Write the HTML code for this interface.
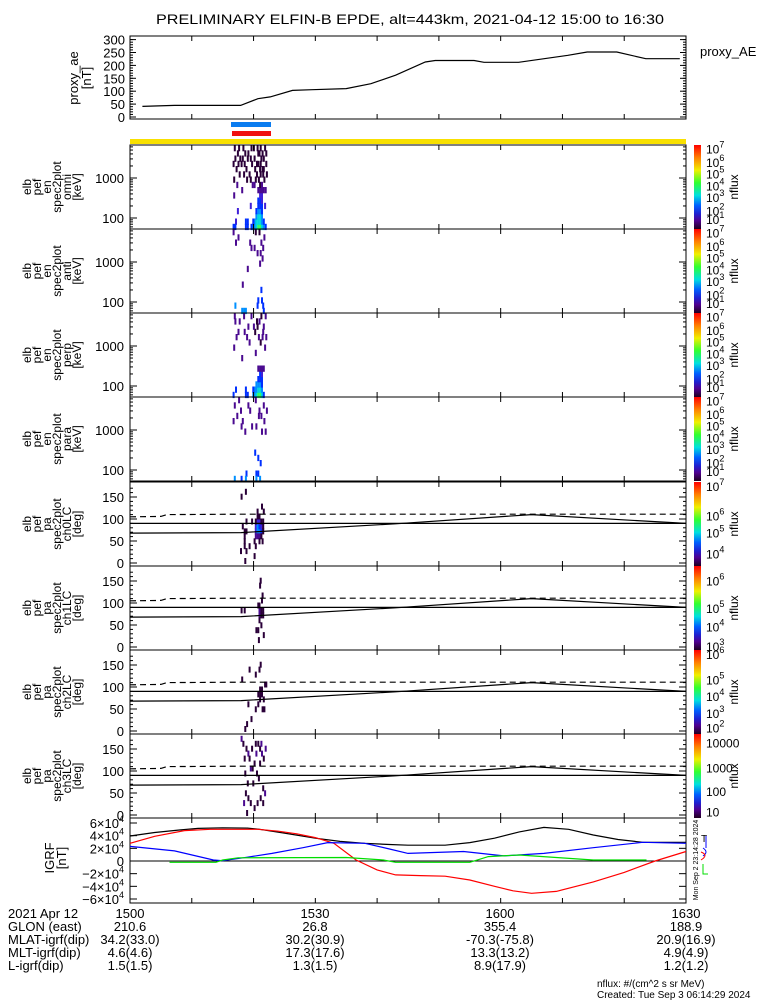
<!DOCTYPE html>
<html><head><meta charset="utf-8">
<style>
html,body{margin:0;padding:0;background:#fff;}
svg{display:block;font-family:"Liberation Sans",sans-serif;}
text{fill:#000;}
</style></head>
<body>
<svg id="chart" width="775" height="1000" viewBox="0 0 775 1000" xmlns="http://www.w3.org/2000/svg">
<rect x="0" y="0" width="775" height="1000" fill="#fff"/>
<text x="410" y="24" font-size="14" text-anchor="middle" textLength="508" lengthAdjust="spacingAndGlyphs">PRELIMINARY ELFIN-B EPDE, alt=443km, 2021-04-12 15:00 to 16:30</text>
<g id="g"></g>
</svg>
<script>
// ---- data ----
const aeT = [2,7.2,17.9,20.7,22.7,26.3,29.5,35,39,43,47.8,49.4,55.7,57.3,62.9,70.9,74,78.8,83.5,89];
const aeV = [41,45,45,71,78,103,106,110,129,162,213,219,219,212,212,239,252,252,226,226];
const bT = [0,4,8,11,15,19,21,25,30,34,38,42,45,48,51,55,59,63,67,71,75,79,83,90];
const bTot = [3.95,4.5,4.9,5.15,5.25,5.2,5.0,4.4,3.6,3.1,2.8,2.6,2.5,2.5,2.5,2.9,3.6,4.6,5.3,5.0,4.1,3.4,2.95,2.95];
const rT = [0,4,8.8,13,17.5,20.7,24,27,30,33,36.6,40,43,47,51,55,59,62,65,69,75,80,85,90];
const rV = [2.8,3.9,4.8,5.0,5.0,5.0,4.7,4.3,3.7,2.8,0.15,-1.4,-2.2,-2.3,-2.4,-3.0,-4.0,-4.7,-5.1,-4.8,-3.3,-1.8,0,1.5];
const blT = [0,7.2,13.5,15,19,23,28,32,38,42,45,54,60.5,67,75,83,90];
const blV = [2.3,1.6,0.15,0.05,0.6,1.2,2.1,2.9,2.8,1.9,1.2,1.5,0.8,1.2,2.1,2.95,2.8];
const gT = [6.4,13.9,15,17.5,35,41,43,55,58,63,75,83.6];
const gV = [-0.2,-0.2,0.15,0.5,0.55,0.15,-0.2,-0.2,0.7,0.95,0.15,0.15];
const lcT = [0,18,43,65,90];
const lcV = [68,69,89,110,90];
const dashT = [0,5,6,18,90];
const dashV = [105,106,110,111,111];
// spectrogram cells: [time-min, bin(0-15), level(0-6)]
const specOmni = [[20.0,0,4],[20.3,0,5],[20.6,0,6],[20.9,0,6],[21.2,0,5],[21.5,0,4],[20.0,1,4],[20.3,1,5],[20.6,1,5],[20.9,1,5],[21.2,1,4],[21.5,1,3],[20.3,2,4],[20.6,2,5],[20.9,2,5],[21.2,2,4],[20.3,3,3],[20.6,3,4],[20.9,3,4],[21.2,3,3],[20.6,4,3],[20.9,4,3],[21.2,4,3],[20.6,5,3],[20.9,5,3],[21.2,5,2],[20.9,6,2],[21.2,6,2],[20.6,7,1],[20.9,7,1],[21.2,7,1],[21.5,7,1],[20.9,8,0],[21.2,8,1],[18.6,0,3],[18.9,0,3],[18.6,1,3],[18.9,1,3],[19.8,0,4],[19.8,1,3],[19.5,0,3],[17.0,1,2],[16.6,0,3],[16.9,0,3],[21.8,0,3],[17.3,3,2],[19.4,4,2],[21.7,4,2],[16.8,15,0],[17.3,14,0],[17.7,13,0],[18.2,15,0],[19.0,14,0],[19.5,15,0],[20.0,13,0],[20.4,12,0],[20.8,14,0],[21.3,11,0],[21.7,15,0],[22.0,10,0],[17.1,11,0],[18.4,12,0],[19.2,10,0],[16.7,9,0],[19.7,8,1],[17.9,12,0],[21.0,10,0],[21.5,13,0],[20.2,9,0],[18.0,7,1],[20.6,14,0],[21.0,15,0],[19.4,13,0],[18.7,11,0],[21.9,12,0],[17.5,15,0],[18.5,14,0],[19.9,15,0],[20.5,15,0],[21.3,14,0],[21.1,13,0],[20.6,12,0],[20.9,11,0],[20.1,11,0],[19.6,12,0],[18.9,13,0],[18.1,13,0],[17.4,12,0],[16.9,13,0],[17.6,10,0],[18.8,9,0],[19.4,9,0],[21.6,9,0],[21.4,10,0],[20.4,10,0],[20.7,9,0],[21.0,12,0],[21.5,11,0],[21.9,14,0],[16.6,12,0],[17.2,8,1],[18.3,10,0],[20.0,8,1],[21.8,7,1],[16.7,6,1]];
const specAnti = [[16.6,15,1],[17.4,14,1],[17.0,13,1],[19.5,12,1],[20.0,12,1],[21.0,11,1],[21.6,14,1],[21.3,10,1],[20.5,11,1],[18.9,8,1],[18.1,5,1],[21.1,4,3],[20.6,2,3],[21.2,2,3],[16.9,1,4],[18.0,0,4],[18.3,0,4],[18.6,0,4],[20.5,1,3],[21.4,1,3],[21.5,0,3],[20.2,15,0],[20.8,15,0],[19.3,13,1],[21.1,13,1],[21.4,12,1],[20.9,9,1]];
const specPerp = [[20.0,0,4],[20.3,0,5],[20.6,0,6],[20.9,0,6],[21.2,0,5],[21.5,0,3],[20.0,1,4],[20.3,1,4],[20.6,1,5],[20.9,1,5],[21.2,1,4],[20.3,2,4],[20.6,2,4],[20.9,2,4],[21.2,2,3],[20.6,3,3],[20.9,3,3],[21.2,3,3],[20.9,4,3],[21.2,4,2],[20.6,5,1],[20.9,5,1],[21.2,5,1],[21.5,5,1],[18.6,0,3],[18.9,0,3],[18.6,1,3],[19.8,0,4],[19.8,1,3],[17.0,1,3],[16.6,0,3],[16.8,15,1],[17.6,14,1],[18.3,15,1],[19.0,13,1],[20.1,12,0],[20.8,14,1],[21.3,11,1],[21.8,15,1],[17.1,11,1],[18.4,12,1],[19.2,10,1],[16.7,9,1],[21.0,10,0],[21.5,13,1],[20.2,8,1],[18.0,7,1],[21.7,9,1],[19.5,15,1],[20.4,14,0],[21.1,15,0],[20.7,11,1],[19.9,13,1],[17.4,12,1],[18.8,11,1],[21.4,12,1],[20.5,13,0],[21.9,11,1],[16.9,14,1]];
const specPara = [[16.8,14,1],[17.5,15,1],[17.8,13,1],[19.3,13,1],[20.7,12,1],[21.5,14,1],[22.0,13,1],[16.6,11,1],[17.9,10,1],[19.6,10,1],[20.3,10,1],[21.2,9,1],[21.8,9,1],[18.5,9,1],[20.1,5,3],[20.6,4,3],[21.0,3,3],[18.7,1,3],[20.3,1,3],[20.6,1,3],[16.8,0,4],[18.6,0,4],[20.3,0,4],[20.9,0,4],[17.9,0,3],[19.0,14,1],[20.2,15,1],[21.1,12,1],[17.2,12,1],[18.1,11,1],[21.6,11,1],[20.8,13,1]];
// pitch-angle cells: [time-min, bin(0-15, 11.25deg), level]
const pa0 = [[20.2,6,2],[20.5,6,4],[20.8,6,4],[21.1,6,3],[20.2,7,2],[20.5,7,4],[20.8,7,3],[21.1,7,2],[20.5,8,2],[20.8,8,2],[20.2,5,1],[20.5,5,1],[20.8,5,1],[21.1,5,0],[21.4,6,0],[21.4,7,0],[20.5,9,0],[20.8,9,0],[20.5,10,0],[20.8,4,0],[18.4,5,0],[18.4,4,0],[18.4,3,0],[18.7,6,0],[18.7,2,0],[18.1,7,0],[18.7,8,0],[17.9,13,0],[18.6,14,0],[19.2,3,0],[20.2,3,0],[20.0,1,0],[18.5,0,0],[21.2,11,0],[21.5,10,0],[17.8,2,0],[19.6,8,0],[21.4,8,0],[21.1,8,0],[20.2,8,0],[18.4,6,0],[20.0,4,0],[21.3,4,0]];
const pa1 = [[20.8,6,1],[20.8,7,1],[21.1,7,0],[21.1,6,0],[20.8,8,0],[21.4,7,0],[21.4,6,0],[20.8,5,0],[21.1,4,0],[20.6,3,0],[20.9,12,0],[21.3,10,0],[20.7,1,0],[21.5,2,0],[17.9,7,0],[18.4,7,0],[20.3,3,0],[20.6,8,0],[21.0,13,0],[21.2,9,0]];
const pa2 = [[20.9,7,0],[21.2,7,0],[20.9,8,0],[21.2,8,0],[20.6,7,0],[20.9,6,0],[21.5,6,0],[20.8,12,0],[20.2,11,0],[19.2,12,0],[18.0,10,0],[21.7,9,0],[19.0,5,0],[18.8,1,0],[18.5,0,0],[19.5,2,0],[20.2,4,0],[21.3,4,0],[21.6,4,0],[20.6,5,0],[21.0,13,0],[21.9,9,0]];
const pa3 = [[17.9,15,1],[18.2,14,0],[18.4,11,0],[18.7,13,0],[19.0,12,1],[19.4,9,1],[19.6,13,0],[20.0,10,0],[20.3,12,1],[20.6,14,0],[20.9,13,0],[21.2,12,1],[21.5,11,0],[21.8,13,1],[20.4,8,0],[20.7,7,0],[19.8,6,0],[18.6,4,0],[19.0,3,0],[19.4,2,0],[20.0,1,0],[20.5,2,0],[21.0,3,0],[21.4,5,0],[21.7,4,1],[18.3,2,1],[18.8,0,0],[19.7,9,0],[20.9,10,0],[18.5,8,0],[19.2,11,0],[20.2,14,0],[21.1,14,1],[18.9,6,0],[21.4,2,0]];
// ---- layout ----
const X0=130, X1=686, TMAX=90;
const xs = t => X0 + t/TMAX*(X1-X0);
const cols = ['#2a0038','#4a0a90','#4020d8','#0030ff','#0090ff','#00d8e0','#30ff60'];
const NS='http://www.w3.org/2000/svg';
const G=document.getElementById('g');
function mk(tag, attrs, parent){const e=document.createElementNS(NS,tag);for(const k in attrs)e.setAttribute(k,attrs[k]);(parent||G).appendChild(e);return e;}
function txt(x,y,s,size,anchor,parent){const e=mk('text',{x:x,y:y,'font-size':size,'text-anchor':anchor||'start'},parent);e.textContent=s;return e;}
function frame(top,bot,name){
  const r=mk('rect',{x:X0,y:top,width:X1-X0,height:bot-top,fill:'none',stroke:'#000','stroke-width':1});
  
  
  for(let i=1;i<9;i++){const x=X0+i*(X1-X0)/9;
    mk('line',{x1:x,x2:x,y1:bot,y2:bot-5,stroke:'#000'});mk('line',{x1:x,x2:x,y1:top,y2:top+5,stroke:'#000'});}
}
function ylabel(lines,cy){
  const g=mk('g',{});
  
  
  lines.forEach((s,i)=>{const x=31+i*10;const t=txt(0,0,s,12,'middle',g);t.setAttribute('transform','translate('+x+','+cy+') rotate(-90)');});
}
function poly(T,V,yf,col,name,dash){
  const p=mk('polyline',{points:T.map((t,i)=>xs(t).toFixed(1)+','+yf(V[i]).toFixed(1)).join(' '),fill:'none',stroke:col,'stroke-width':1.2});
  if(dash)p.setAttribute('stroke-dasharray','6,4');
  
  
}
// ---- proxy AE ----
(function(){
  const top=36,bot=119; const yf=v=>117-v*0.258;
  frame(top,bot,'proxy-ae-panel');
  [0,50,100,150,200,250,300].forEach(v=>{txt(125,yf(v)+5,String(v),13,'end');mk('line',{x1:X0,x2:X0+6,y1:yf(v),y2:yf(v),stroke:'#000'});mk('line',{x1:X1,x2:X1-6,y1:yf(v),y2:yf(v),stroke:'#000'});});
  for(let v=10;v<310;v+=10){mk('line',{x1:X0,x2:X0+3,y1:yf(v),y2:yf(v),stroke:'#000'});mk('line',{x1:X1,x2:X1-3,y1:yf(v),y2:yf(v),stroke:'#000'});}
  poly(aeT,aeV,yf,'#000','proxy-ae-line');
  const g=mk('g',{});
  
  
  let t=txt(0,0,'proxy_ae',13,'middle',g);t.setAttribute('transform','translate(78,78) rotate(-90)');
  t=txt(0,0,'[nT]',13,'middle',g);t.setAttribute('transform','translate(91,78) rotate(-90)');
  txt(700,56,'proxy_AE',13,'start');
})();
// bars
let b=mk('rect',{x:231,y:122,width:40,height:5,fill:'#0a7cf0'});
b=mk('rect',{x:232,y:131,width:39,height:5,fill:'#f01010'});
b=mk('rect',{x:X0,y:139,width:X1-X0,height:5,fill:'#f8e000'});
// colorbar gradient
const defs=mk('defs',{});
const lg=mk('linearGradient',{id:'rb',x1:0,y1:0,x2:0,y2:1},defs);
[['0','#ff0000'],['0.15','#ff8000'],['0.3','#f0f000'],['0.45','#30ff30'],['0.6','#00e0e0'],['0.72','#0060ff'],['0.82','#2020d0'],['0.9','#500090'],['1','#200020']].forEach(s=>mk('stop',{offset:s[0],'stop-color':s[1]},lg));
function cbar(top,bot,labels,name){
  const r=mk('rect',{x:694,y:top,width:7,height:bot-top,fill:'url(#rb)'});
  
  
  labels.forEach(l=>{const t=txt(706,top+(bot-top)*l[1]+5,l[0],12,'start');if(l[2]){const s=mk('tspan',{dy:-6,'font-size':9},t);s.textContent=l[2];}});
  const t=txt(0,0,'nflux',12,'middle');t.setAttribute('transform','translate(738,'+((top+bot)/2)+') rotate(-90)');
}
// ---- energy spectrograms ----
const eTops=[145,229,313,397];
const eNames=['omni','anti','perp','para'];
const eData=[specOmni,specAnti,specPerp,specPara];
eTops.forEach((top,k)=>{
  const bot=top+84;
  const yE=E=>top+33+(3-Math.log10(E))*40;
  const bh=84/16;
  eData[k].forEach(c=>{
    const r=mk('rect',{x:xs(c[0]).toFixed(1),y:(bot-(c[1]+1)*bh).toFixed(1),width:2,height:(bh+1).toFixed(1),fill:cols[c[2]]});
    
    
  });
  frame(top,bot,'energy-spectrogram-'+eNames[k]);
  [1000,100].forEach(v=>txt(124,yE(v)+5,String(v),13,'end'));
  for(let d=10;d<=10000;d*=10)for(let m=1;m<10;m++){const y=yE(d*m);if(y>top&&y<bot){const L=m===1?7:3;mk('line',{x1:X0,x2:X0+L,y1:y,y2:y,stroke:'#000'});mk('line',{x1:X1,x2:X1-L,y1:y,y2:y,stroke:'#000'});}}
  ylabel(['elb','pef','en','spec2plot',eNames[k],'[keV]'],top+42);
  cbar(top,bot,[['10','0.04','7'],['10','0.2','6'],['10','0.34','5'],['10','0.48','4'],['10','0.62','3'],['10','0.78','2'],['10','0.88','1']],'colorbar-'+eNames[k]);
});
// ---- pitch angle panels ----
const pTops=[482,566,650,734];
const pData=[pa0,pa1,pa2,pa3];
const pLab=[
 [['10','0.05','7'],['10','0.4','6'],['10','0.6','5'],['10','0.85','4']],
 [['10','0.17','6'],['10','0.5','5'],['10','0.72','4'],['10','0.95','3']],
 [['10','0.05','6'],['10','0.35','5'],['10','0.55','4'],['10','0.75','3'],['10','0.92','2']],
 [['10000','0.1'],['1000','0.4'],['100','0.68'],['10','0.92']]];
pTops.forEach((top,k)=>{
  const bot=top+84;
  const yP=p=>top+81-p*0.44;
  const bh=180/16*0.44;
  pData[k].forEach(c=>{
    const r=mk('rect',{x:xs(c[0]).toFixed(1),y:(yP((c[1]+1)*11.25)).toFixed(1),width:2,height:(bh+1).toFixed(1),fill:cols[c[2]]});
    
    
  });
  frame(top,bot,'pitch-angle-panel-ch'+k);
  [0,50,100,150].forEach(v=>{txt(124,yP(v)+5,String(v),13,'end');mk('line',{x1:X0,x2:X0+7,y1:yP(v),y2:yP(v),stroke:'#000'});mk('line',{x1:X1,x2:X1-7,y1:yP(v),y2:yP(v),stroke:'#000'});});
  for(let v=10;v<180;v+=10){mk('line',{x1:X0,x2:X0+3,y1:yP(v),y2:yP(v),stroke:'#000'});mk('line',{x1:X1,x2:X1-3,y1:yP(v),y2:yP(v),stroke:'#000'});}
  const l=mk('line',{x1:X0,x2:X1,y1:yP(90),y2:yP(90),stroke:'#000','stroke-width':1.2});
  
  
  poly(lcT,lcV,yP,'#000','loss-cone-line');
  poly(dashT,dashV,yP,'#000','anti-loss-cone-line',true);
  ylabel(['elb','pef','pa','spec2plot','ch'+k+'LC','[deg]'],top+42);
  cbar(top,bot,pLab[k],'colorbar-ch'+k);
});
// ---- IGRF ----
(function(){
  const top=818,bot=903; const yf=v=>861-v*38/6;
  frame(top,bot,'igrf-panel');
  const l=mk('line',{x1:X0,x2:X1,y1:yf(0),y2:yf(0),stroke:'#000'});
  
  
  [-6,-4,-2,0,2,4,6].forEach(v=>{
    const t=txt(124,yf(v)+5,v===0?'0':(v<0?'\u2212':'')+Math.abs(v)+'\u00d710',13,'end');
    if(v!==0){const s=mk('tspan',{dy:-6,'font-size':9},t);s.textContent='4';}
    mk('line',{x1:X0,x2:X0+7,y1:yf(v),y2:yf(v),stroke:'#000'});mk('line',{x1:X1,x2:X1-7,y1:yf(v),y2:yf(v),stroke:'#000'});
  });
  poly(bT,bTot,yf,'#000','igrf-total-line');
  poly(rT,rV,yf,'#ff0000','igrf-red-line');
  poly(blT,blV,yf,'#0000ff','igrf-blue-line');
  poly(gT,gV,yf,'#00dd00','igrf-green-line');
  const g=mk('g',{});
  
  
  let t=txt(0,0,'IGRF',13,'middle',g);t.setAttribute('transform','translate(54,858) rotate(-90)');
  t=txt(0,0,'[nT]',13,'middle',g);t.setAttribute('transform','translate(66,858) rotate(-90)');
  t=txt(0,0,'Mon Sep  2 23:14:28 2024',7,'middle');t.setAttribute('transform','translate(698,860) rotate(-90)');
  txt(701,842,'T',10,'start');
  mk('path',{d:'M706 836 L706 848 M703 848 Q709 852 703 856',stroke:'#0000ff',fill:'none'});
  mk('path',{d:'M701 852 Q709 855 701 860',stroke:'#ff0000',fill:'none'});
  mk('path',{d:'M703 864 L703 874 L708 874',stroke:'#00dd00',fill:'none'});
})();
// ---- bottom annotation ----
const rowY=[918,931,944,957,970];
const rowNames=['2021 Apr 12','GLON (east)','MLAT-igrf(dip)','MLT-igrf(dip)','L-igrf(dip)'];
const rowVals=[['1500','1530','1600','1630'],['210.6','26.8','355.4','188.9'],['34.2(33.0)','30.2(30.9)','-70.3(-75.8)','20.9(16.9)'],['4.6(4.6)','17.3(17.6)','13.3(13.2)','4.9(4.9)'],['1.5(1.5)','1.3(1.5)','8.9(17.9)','1.2(1.2)']];
const colX=[130,315,500,686];
rowY.forEach((y,i)=>{
  const t=txt(8,y,rowNames[i],13,'start');
  
  
  rowVals[i].forEach((v,j)=>txt(colX[j],y,v,13,'middle'));
});
txt(597,987,'nflux: #/(cm^2 s sr MeV)',10,'start');
txt(597,998,'Created: Tue Sep  3 06:14:29 2024',10,'start');
</script>
</body></html>
